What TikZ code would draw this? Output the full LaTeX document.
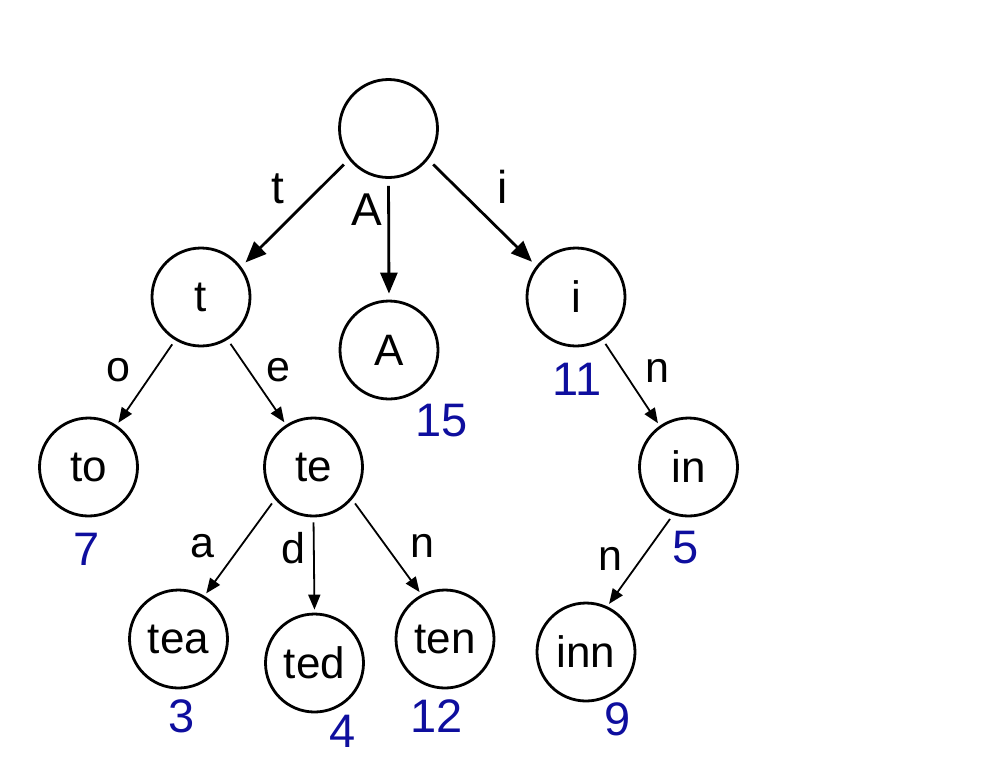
\documentclass[tikz,border=0pt]{standalone}
\usepackage{fontspec}
\setmainfont{Liberation Sans}
\usetikzlibrary{arrows.meta}
\definecolor{numblue}{RGB}{14,14,158}
\begin{document}
\begin{tikzpicture}[x=0.5pt,y=-0.5pt,
  st/.style={circle,draw,line width=1.4pt,minimum size=49pt,inner sep=0pt,font=\fontsize{22}{22}\selectfont},
  lbl/.style={anchor=base,inner sep=0pt,font=\fontsize{21.5}{21.5}\selectfont},
  toplbl/.style={lbl,font=\fontsize{23}{23}\selectfont},
  num/.style={anchor=base,inner sep=0pt,text=numblue,font=\fontsize{23.5}{23.5}\selectfont},
  bigarr/.style={line width=1.4pt,-{Triangle[length=10.5pt,width=8.5pt]},shorten <=3.5pt,shorten >=3pt},
  smallarr/.style={line width=0.9pt,-{Triangle[length=7.5pt,width=6pt]},shorten <=2.5pt,shorten >=1.5pt}]
\useasboundingbox (0,0) rectangle (990,778);
% states
\node[st] (root) at (388.5,128.5) {};
\node[st] (t) at (201,297) {t};
\node[st] (A) at (389,350) {A};
\node[st] (i) at (576,297) {i};
\node[st] (to) at (88.5,467) {to};
\node[st] (te) at (313.5,467) {te};
\node[st] (in) at (688.5,467) {in};
\node[st] (tea) at (178.5,639) {tea};
\node[st] (ted) at (314.5,663) {ted};
\node[st] (ten) at (445,639) {ten};
\node[st] (inn) at (586,652) {inn};
% edges
\draw[bigarr] (root.218) -- (t.37);
\draw[bigarr] (root.270) -- (A.90);
\draw[bigarr] (root.322) -- (i.142);
\draw[smallarr] (t.239) -- (to.56);
\draw[smallarr] (t.302) -- (te.123);
\draw[smallarr] (te.220) -- (tea.59);
\draw[smallarr] (te.270) -- (ted.90);
\draw[smallarr] (te.320) -- (ten.118);
\draw[smallarr] (i.302) -- (in.125);
\draw[smallarr] (in.252) -- (inn.65);
% edge labels
\node[toplbl] (lt) at (278,203) {t};
\node[toplbl] (lA) at (367,225) {A};
\node[toplbl] (li) at (503,203) {i};
\node[lbl] (lo) at (118,381) {o};
\node[lbl] (le) at (278,381) {e};
\node[lbl] (la) at (202,557) {a};
\node[lbl] (ld) at (293,563) {d};
\node[lbl] (ln1) at (422,557) {n};
\node[lbl] (ln2) at (657,382) {n};
\node[lbl] (ln3) at (610,570) {n};
% values
\node[num] (v15) at (442,436) {15};
\node[num] (v11) at (577,395) {11};
\node[num] (v7) at (87,565) {7};
\node[num] (v5) at (686,563) {5};
\node[num] (v3) at (182,732) {3};
\node[num] (v4) at (343,747) {4};
\node[num] (v12) at (437,732) {12};
\node[num] (v9) at (618,735) {9};
\end{tikzpicture}
\end{document}
